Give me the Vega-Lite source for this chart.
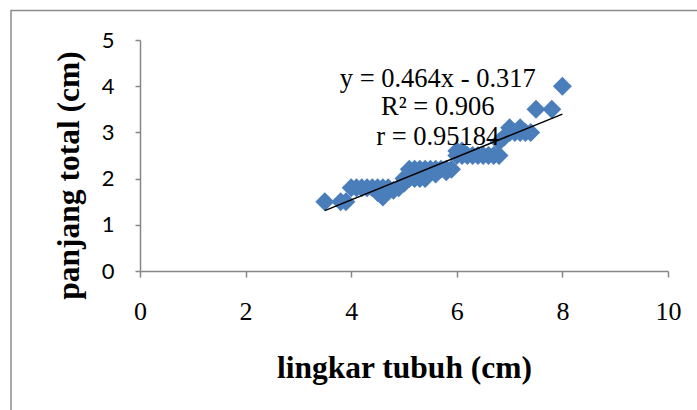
{
  "$schema": "https://vega.github.io/schema/vega-lite/v6.json",
  "width": 528,
  "height": 231,
  "autosize": "none",
  "padding": {"left": 140, "top": 40, "right": 29, "bottom": 139},
  "background": "white",
  "config": {"view": {"stroke": null}},
  "datasets": {
    "pts": [
      {"x": 3.5, "y": 1.5}, {"x": 3.8, "y": 1.5}, {"x": 3.9, "y": 1.5},
      {"x": 4.0, "y": 1.8}, {"x": 4.1, "y": 1.8}, {"x": 4.2, "y": 1.8}, {"x": 4.3, "y": 1.8},
      {"x": 4.4, "y": 1.8}, {"x": 4.5, "y": 1.8}, {"x": 4.6, "y": 1.8}, {"x": 4.7, "y": 1.8},
      {"x": 4.6, "y": 1.6}, {"x": 4.5, "y": 1.7},
      {"x": 4.8, "y": 1.75}, {"x": 4.9, "y": 1.8}, {"x": 5.0, "y": 1.9}, {"x": 5.0, "y": 2.0},
      {"x": 5.1, "y": 2.0}, {"x": 5.2, "y": 2.0}, {"x": 5.3, "y": 2.0}, {"x": 5.4, "y": 2.0},
      {"x": 5.1, "y": 2.2}, {"x": 5.2, "y": 2.2}, {"x": 5.3, "y": 2.2}, {"x": 5.4, "y": 2.2},
      {"x": 5.5, "y": 2.2}, {"x": 5.6, "y": 2.2}, {"x": 5.7, "y": 2.2}, {"x": 5.8, "y": 2.2}, {"x": 5.9, "y": 2.2},
      {"x": 5.6, "y": 2.1}, {"x": 5.8, "y": 2.15},
      {"x": 6.0, "y": 2.5}, {"x": 6.1, "y": 2.5}, {"x": 6.2, "y": 2.5}, {"x": 6.3, "y": 2.5},
      {"x": 6.4, "y": 2.5}, {"x": 6.5, "y": 2.5}, {"x": 6.6, "y": 2.5}, {"x": 6.0, "y": 2.6},
      {"x": 6.1, "y": 2.6}, {"x": 6.7, "y": 2.5}, {"x": 6.8, "y": 2.5},
      {"x": 6.8, "y": 2.8}, {"x": 6.9, "y": 2.9},
      {"x": 7.0, "y": 3.0}, {"x": 7.1, "y": 3.0}, {"x": 7.2, "y": 3.0}, {"x": 7.3, "y": 3.0}, {"x": 7.4, "y": 3.0},
      {"x": 7.0, "y": 3.1}, {"x": 7.2, "y": 3.1},
      {"x": 7.5, "y": 3.5}, {"x": 7.8, "y": 3.5}, {"x": 8.0, "y": 4.0}
    ],
    "trend": [{"x": 3.5, "y": 1.307}, {"x": 8.0, "y": 3.395}],
    "labels": [
      {"x": 5.64, "y": 4.15, "t": "y = 0.464x - 0.317"},
      {"x": 5.64, "y": 3.56, "t": "R² = 0.906"},
      {"x": 5.64, "y": 2.91, "t": "r = 0.95184"}
    ]
  },
  "layer": [
    {
      "data": {"values": [{"a": 1}]},
      "mark": {"type": "rect", "fill": null, "stroke": "#8c8c8c", "strokeWidth": 1.5, "clip": false},
      "encoding": {
        "x": {"datum": -2.443, "type": "quantitative", "scale": {"domain": [0, 10], "nice": false}},
        "x2": {"datum": 11},
        "y": {"datum": 5.639, "type": "quantitative", "scale": {"domain": [0, 5], "nice": false}},
        "y2": {"datum": -4}
      }
    },
    {
      "data": {"name": "pts"},
      "mark": {"type": "point", "shape": "diamond", "filled": true, "size": 360, "color": "#4A7EBB", "opacity": 1},
      "encoding": {
        "x": {
          "field": "x", "type": "quantitative",
          "scale": {"domain": [0, 10], "nice": false},
          "axis": {
            "values": [0, 2, 4, 6, 8, 10], "grid": false, "labelFlush": false,
            "title": "lingkar tubuh (cm)",
            "titleFont": "Liberation Serif", "titleFontSize": 31.5, "titleFontWeight": "bold", "titleColor": "black",
            "titleX": 264, "titleY": 106, "titleBaseline": "alphabetic",
            "labelFont": "Liberation Serif", "labelFontSize": 26, "labelColor": "black", "labelPadding": 21,
            "domainColor": "#868686", "domainWidth": 1.5, "tickColor": "#868686", "tickSize": 6, "tickWidth": 1.5
          }
        },
        "y": {
          "field": "y", "type": "quantitative",
          "scale": {"domain": [0, 5], "nice": false},
          "axis": {
            "values": [0, 1, 2, 3, 4, 5], "grid": false, "labelFlush": false,
            "title": "panjang total (cm)",
            "titleFont": "Liberation Serif", "titleFontSize": 31.5, "titleFontWeight": "bold", "titleColor": "black",
            "titleX": -71, "titleY": 135, "titleAngle": -90, "titleBaseline": "middle", "titleAlign": "center",
            "labelFont": "Lato", "labelFontSize": 22, "labelColor": "black", "labelPadding": 21,
            "domainColor": "#868686", "domainWidth": 1.5, "tickColor": "#868686", "tickSize": 5, "tickWidth": 1.5
          }
        }
      }
    },
    {
      "data": {"name": "trend"},
      "mark": {"type": "line", "color": "black", "strokeWidth": 1.5},
      "encoding": {
        "x": {"field": "x", "type": "quantitative"},
        "y": {"field": "y", "type": "quantitative"}
      }
    },
    {
      "data": {"name": "labels"},
      "mark": {"type": "text", "font": "Liberation Serif", "fontSize": 26.5, "color": "black", "align": "center", "baseline": "middle"},
      "encoding": {
        "x": {"field": "x", "type": "quantitative"},
        "y": {"field": "y", "type": "quantitative"},
        "text": {"field": "t"}
      }
    }
  ]
}
